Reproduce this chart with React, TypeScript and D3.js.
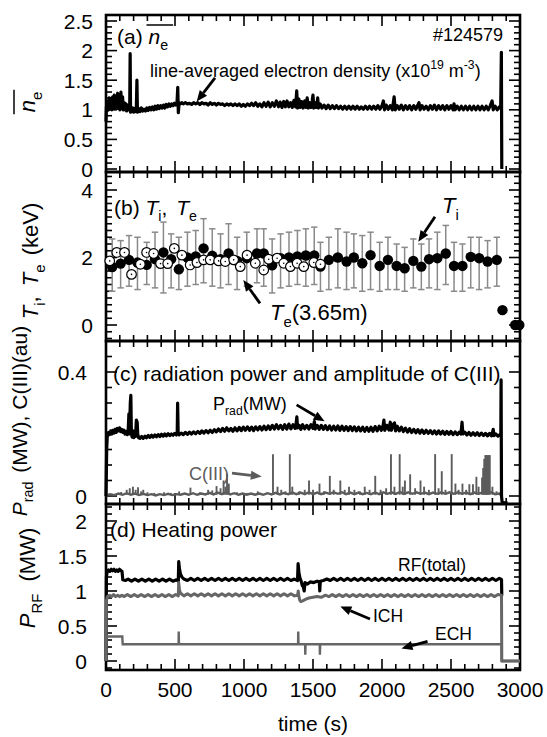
import { useEffect, useRef } from "react";
import * as d3 from "d3";

const W = 547;
const H = 737;
const FONT = "'Liberation Sans', Arial, Helvetica, sans-serif";

// ---- axis ticks ----
const timeTicks = [0, 500, 1000, 1500, 2000, 2500, 3000];
const neTicks = [0, 0.5, 1, 1.5, 2, 2.5];
const tempTicks = [0, 2, 4];
const pradTicks = [0, 0.4];
const prfTicks = [0, 0.5, 1, 1.5, 2];

// ---- (a) line-averaged density, [time (s), 1e19 m^-3] ----
const neSeries: [number, number][] = [
  [0, 0.8], [3, 1.05], [8, 0.98], [13, 1.15], [18, 1.0], [24, 1.2], [30, 1.02], [36, 1.18], [42, 1.0], [48, 1.22],
  [54, 1.04], [60, 1.25], [66, 1.02], [72, 1.2], [78, 1.05], [84, 1.28], [90, 1.02], [96, 1.25], [102, 1.0], [108, 1.3],
  [114, 1.02], [120, 1.22], [126, 1.0], [132, 1.12], [138, 1.0], [144, 1.1], [150, 0.98], [156, 1.08], [162, 1.0], [168, 1.05],
  [172, 1.1], [175, 1.95], [178, 0.96], [184, 1.04], [190, 0.97], [196, 1.03], [202, 0.96], [208, 1.02], [214, 0.97], [220, 1.05],
  [224, 1.5], [228, 0.96], [236, 1.02], [246, 0.97], [256, 1.03], [266, 0.98], [276, 1.01], [286, 0.98], [296, 1.03], [306, 0.99],
  [316, 1.04], [326, 1.0], [336, 1.05], [346, 1.0], [356, 1.06], [366, 1.01], [376, 1.07], [386, 1.02], [396, 1.07], [406, 1.03],
  [416, 1.08], [426, 1.03], [436, 1.09], [446, 1.05], [456, 1.1], [466, 1.06], [476, 1.1], [486, 1.07], [496, 1.11], [506, 1.08],
  [514, 1.1], [520, 1.38], [524, 0.95], [530, 1.12], [540, 1.1], [550, 1.12], [560, 1.1], [575, 1.12], [590, 1.1], [605, 1.11],
  [620, 1.09], [635, 1.12], [650, 1.1], [665, 1.12], [680, 1.09], [695, 1.12], [710, 1.1], [725, 1.11], [740, 1.08], [755, 1.12],
  [770, 1.09], [785, 1.11], [800, 1.08], [815, 1.11], [830, 1.09], [845, 1.1], [860, 1.07], [875, 1.1], [890, 1.08], [905, 1.1],
  [920, 1.07], [935, 1.1], [950, 1.07], [965, 1.1], [980, 1.06], [995, 1.09], [1010, 1.06], [1025, 1.1], [1040, 1.07], [1055, 1.11],
  [1070, 1.07], [1085, 1.12], [1100, 1.06], [1115, 1.1], [1130, 1.05], [1145, 1.12], [1160, 1.06], [1175, 1.13], [1190, 1.05], [1205, 1.12],
  [1220, 1.06], [1235, 1.15], [1250, 1.05], [1262, 1.13], [1275, 1.04], [1288, 1.14], [1300, 1.05], [1312, 1.15], [1325, 1.05], [1338, 1.12],
  [1350, 1.04], [1362, 1.16], [1374, 1.05], [1382, 1.32], [1388, 1.03], [1398, 1.18], [1408, 1.04], [1418, 1.14], [1428, 1.03], [1440, 1.15],
  [1450, 1.04], [1458, 1.2], [1466, 1.03], [1476, 1.12], [1486, 1.04], [1494, 1.15], [1500, 1.25], [1506, 1.03], [1516, 1.12], [1526, 1.04],
  [1534, 1.2], [1540, 1.03], [1552, 1.1], [1565, 1.03], [1580, 1.08], [1595, 1.02], [1610, 1.08], [1625, 1.02], [1640, 1.07], [1655, 1.02],
  [1670, 1.07], [1685, 1.02], [1700, 1.06], [1715, 1.01], [1730, 1.06], [1745, 1.01], [1760, 1.06], [1775, 1.01], [1790, 1.06], [1805, 1.01],
  [1820, 1.06], [1835, 1.01], [1850, 1.05], [1865, 1.01], [1880, 1.06], [1895, 1.01], [1910, 1.06], [1925, 1.01], [1940, 1.06], [1955, 1.01],
  [1970, 1.07], [1985, 1.01], [2000, 1.07], [2010, 1.15], [2018, 1.0], [2030, 1.08], [2045, 1.01], [2060, 1.07], [2075, 1.0], [2088, 1.22],
  [2096, 1.0], [2110, 1.07], [2125, 1.01], [2140, 1.08], [2155, 1.0], [2170, 1.07], [2185, 1.01], [2200, 1.07], [2215, 1.0], [2230, 1.07],
  [2245, 1.01], [2260, 1.08], [2268, 1.12], [2276, 1.0], [2290, 1.07], [2305, 1.01], [2320, 1.06], [2335, 1.0], [2350, 1.07], [2365, 1.01],
  [2380, 1.08], [2395, 1.0], [2410, 1.07], [2425, 1.01], [2440, 1.07], [2455, 1.0], [2470, 1.07], [2485, 1.01], [2500, 1.07], [2515, 1.0],
  [2522, 1.1], [2530, 1.0], [2545, 1.06], [2560, 1.0], [2575, 1.06], [2590, 1.0], [2605, 1.06], [2620, 1.0], [2635, 1.06], [2650, 1.0],
  [2665, 1.06], [2680, 1.0], [2695, 1.06], [2710, 1.0], [2725, 1.06], [2740, 1.0], [2755, 1.06], [2770, 1.0], [2785, 1.07], [2798, 1.15],
  [2806, 1.0], [2820, 1.06], [2835, 1.0], [2850, 1.05], [2860, 1.02], [2865, 1.97], [2868, 0],
];

// ---- (b) ion temperature with error bars, electron temperature (keV) ----
const tiTime = [45, 106, 167, 228, 295, 355, 416, 472, 528, 590, 650, 707, 770, 830, 888, 950, 1020, 1094, 1143, 1204,
  1265, 1326, 1387, 1448, 1509, 1554, 1615, 1680, 1743, 1796, 1857, 1917, 1983, 2043, 2106, 2164, 2227, 2285, 2341, 2401,
  2462, 2522, 2583, 2643, 2704, 2765, 2832];
const tiValue = [1.72, 1.82, 1.93, 1.85, 1.78, 1.95, 2.15, 1.95, 1.65, 2.0, 2.03, 2.27, 2.05, 1.95, 2.12, 1.9, 1.98, 2.12, 2.12, 1.77,
  1.98, 2.0, 2.03, 2.06, 2.06, 1.73, 1.93, 2.0, 1.88, 2.0, 1.83, 2.07, 1.75, 1.93, 1.75, 1.68, 1.9, 1.73, 1.95, 1.98,
  2.12, 1.75, 1.75, 2.02, 1.98, 1.88, 1.93];
const tiErrHigh = [2.55, 2.5, 2.65, 2.6, 2.45, 2.75, 3.05, 2.7, 2.6, 2.75, 2.8, 3.15, 2.85, 2.7, 3.0, 2.6, 2.75, 2.85, 2.85, 2.55,
  2.7, 2.75, 2.8, 2.85, 2.9, 2.45, 2.6, 2.85, 2.75, 2.7, 2.65, 2.75, 2.45, 2.6, 2.4, 2.3, 2.55, 2.4, 2.55, 2.75,
  2.95, 2.45, 2.4, 2.6, 2.6, 2.5, 2.6];
const tiErrLow = [1.0, 1.1, 1.15, 1.05, 1.2, 1.1, 0.95, 1.1, 1.05, 1.15, 1.2, 1.25, 1.15, 1.1, 1.2, 1.05, 1.15, 1.25, 1.15, 0.95,
  1.1, 1.15, 1.2, 1.15, 1.2, 1.0, 1.05, 1.1, 1.05, 1.1, 1.0, 1.05, 1.0, 1.05, 1.05, 1.0, 1.1, 1.05, 1.1, 1.05,
  1.2, 1.0, 1.0, 1.1, 1.05, 1.1, 1.15];
const tiTailTime = [2873, 2965, 2995];
const tiTailValue = [0.44, 0.0, 0.0];
const teTime = [27, 78, 134, 185, 249, 294, 345, 395, 447, 495, 550, 610, 659, 707, 755, 816, 864, 925, 973, 1022,
  1082, 1143, 1179, 1240, 1288, 1336, 1385, 1433, 1506, 1554];
const teValue = [1.9, 2.15, 2.15, 1.5, 1.8, 2.15, 2.12, 1.82, 1.82, 2.27, 2.07, 1.78, 1.85, 1.93, 1.93, 1.9, 1.88, 1.93, 1.73, 2.07,
  1.83, 1.63, 1.95, 1.98, 1.83, 1.73, 1.83, 1.73, 1.85, 1.8];

// ---- (c) radiation power (MW) ----
const pradSeries: [number, number][] = [
  [0, 0], [5, 0.15], [10, 0.2], [18, 0.205], [26, 0.198], [34, 0.21], [42, 0.2], [50, 0.212], [58, 0.203], [66, 0.215],
  [74, 0.205], [82, 0.218], [90, 0.21], [98, 0.22], [106, 0.208], [114, 0.215], [122, 0.205], [130, 0.212], [138, 0.2], [146, 0.208],
  [154, 0.198], [160, 0.205], [166, 0.265], [170, 0.2], [176, 0.3], [180, 0.325], [184, 0.2], [190, 0.19], [196, 0.21], [202, 0.188],
  [208, 0.2], [214, 0.192], [220, 0.245], [226, 0.238], [230, 0.2], [236, 0.188], [246, 0.186], [258, 0.192], [270, 0.186], [282, 0.193],
  [294, 0.188], [306, 0.195], [318, 0.189], [330, 0.196], [342, 0.19], [354, 0.197], [366, 0.191], [378, 0.198], [390, 0.192], [402, 0.199],
  [414, 0.193], [426, 0.2], [438, 0.194], [450, 0.201], [462, 0.195], [474, 0.2], [486, 0.196], [498, 0.202], [510, 0.197], [516, 0.2],
  [519, 0.3], [523, 0.205], [530, 0.197], [545, 0.203], [560, 0.198], [575, 0.205], [590, 0.199], [605, 0.206], [620, 0.2], [635, 0.207],
  [650, 0.201], [665, 0.208], [680, 0.202], [695, 0.21], [710, 0.203], [725, 0.211], [740, 0.204], [755, 0.212], [770, 0.205], [785, 0.214],
  [800, 0.207], [815, 0.216], [830, 0.208], [845, 0.218], [860, 0.209], [875, 0.22], [890, 0.21], [905, 0.218], [920, 0.209], [935, 0.22],
  [950, 0.21], [965, 0.221], [980, 0.211], [995, 0.222], [1010, 0.212], [1025, 0.223], [1040, 0.212], [1055, 0.222], [1070, 0.211], [1085, 0.223],
  [1100, 0.213], [1115, 0.224], [1130, 0.213], [1145, 0.225], [1160, 0.214], [1175, 0.226], [1190, 0.215], [1205, 0.228], [1220, 0.216], [1235, 0.23],
  [1250, 0.217], [1265, 0.228], [1280, 0.215], [1295, 0.23], [1310, 0.216], [1325, 0.232], [1340, 0.217], [1355, 0.23], [1370, 0.218], [1378, 0.235],
  [1383, 0.255], [1388, 0.22], [1400, 0.228], [1412, 0.215], [1425, 0.23], [1440, 0.217], [1455, 0.228], [1470, 0.216], [1485, 0.23], [1500, 0.218],
  [1510, 0.24], [1516, 0.216], [1530, 0.228], [1545, 0.215], [1560, 0.228], [1575, 0.215], [1590, 0.227], [1605, 0.214], [1620, 0.226], [1635, 0.213],
  [1650, 0.225], [1665, 0.213], [1680, 0.226], [1695, 0.212], [1710, 0.225], [1725, 0.212], [1740, 0.224], [1755, 0.211], [1770, 0.224], [1785, 0.211],
  [1800, 0.223], [1815, 0.21], [1830, 0.222], [1845, 0.21], [1860, 0.222], [1875, 0.209], [1890, 0.221], [1905, 0.209], [1920, 0.222], [1935, 0.209],
  [1950, 0.224], [1965, 0.21], [1980, 0.225], [1995, 0.212], [2008, 0.228], [2014, 0.245], [2020, 0.212], [2035, 0.228], [2050, 0.213], [2060, 0.238],
  [2068, 0.212], [2080, 0.23], [2090, 0.236], [2098, 0.21], [2110, 0.225], [2125, 0.21], [2140, 0.222], [2155, 0.208], [2170, 0.219], [2185, 0.206],
  [2200, 0.217], [2215, 0.205], [2230, 0.215], [2245, 0.204], [2260, 0.214], [2275, 0.203], [2290, 0.213], [2305, 0.202], [2320, 0.212], [2335, 0.202],
  [2350, 0.211], [2365, 0.201], [2380, 0.21], [2395, 0.2], [2410, 0.21], [2425, 0.2], [2440, 0.209], [2455, 0.199], [2470, 0.208], [2485, 0.199],
  [2500, 0.208], [2515, 0.198], [2530, 0.207], [2545, 0.198], [2560, 0.206], [2572, 0.2], [2580, 0.238], [2586, 0.2], [2600, 0.206], [2615, 0.197],
  [2630, 0.205], [2645, 0.196], [2660, 0.204], [2675, 0.196], [2690, 0.204], [2705, 0.195], [2720, 0.203], [2735, 0.195], [2750, 0.202], [2765, 0.194],
  [2780, 0.202], [2795, 0.194], [2806, 0.215], [2812, 0.195], [2825, 0.2], [2840, 0.193], [2855, 0.198], [2861, 0.195], [2863, 0.375], [2866, 0.0],
  [2870, -0.018], [2885, -0.022], [2910, -0.022],
];

// ---- (c) C(III) amplitude (au): baseline and spikes ----
const c3Base: [number, number][] = [
  [0, 0.002], [30, 0.006], [60, 0.003], [90, 0.008], [120, 0.004], [150, 0.009], [180, 0.004], [210, 0.008], [240, 0.003], [270, 0.007],
  [300, 0.003], [330, 0.006], [360, 0.002], [390, 0.006], [420, 0.003], [450, 0.007], [480, 0.003], [510, 0.006], [540, 0.004], [570, 0.008],
  [600, 0.004], [630, 0.009], [660, 0.004], [690, 0.008], [720, 0.005], [750, 0.01], [780, 0.005], [810, 0.011], [840, 0.006], [870, 0.012],
  [900, 0.005], [930, 0.009], [960, 0.004], [990, 0.008], [1020, 0.004], [1050, 0.008], [1080, 0.004], [1110, 0.008], [1140, 0.004], [1170, 0.009],
  [1200, 0.005], [1230, 0.01], [1260, 0.005], [1290, 0.01], [1320, 0.006], [1350, 0.011], [1380, 0.006], [1410, 0.011], [1440, 0.006], [1470, 0.012],
  [1500, 0.006], [1530, 0.011], [1560, 0.006], [1590, 0.011], [1620, 0.007], [1650, 0.012], [1680, 0.007], [1710, 0.012], [1740, 0.006], [1770, 0.011],
  [1800, 0.006], [1830, 0.011], [1860, 0.006], [1890, 0.01], [1920, 0.006], [1950, 0.011], [1980, 0.006], [2010, 0.012], [2040, 0.007], [2070, 0.012],
  [2100, 0.007], [2130, 0.013], [2160, 0.007], [2190, 0.012], [2220, 0.007], [2250, 0.012], [2280, 0.007], [2310, 0.011], [2340, 0.006], [2370, 0.011],
  [2400, 0.007], [2430, 0.012], [2460, 0.007], [2490, 0.012], [2520, 0.007], [2550, 0.012], [2580, 0.007], [2610, 0.011], [2640, 0.006], [2670, 0.011],
  [2700, 0.007], [2730, 0.012], [2760, 0.008], [2790, 0.012], [2820, 0.006], [2850, 0.008], [2862, 0.003],
];
const c3SpikeTime = [110, 150, 172, 195, 215, 232, 255, 270, 300, 350, 420, 470, 530, 612, 680, 740, 770, 801, 830, 852,
  865, 877, 890, 950, 1020, 1100, 1160, 1210, 1243, 1270, 1300, 1332, 1350, 1400, 1440, 1471, 1500, 1547, 1580, 1622,
  1650, 1698, 1730, 1761, 1800, 1840, 1875, 1910, 1951, 1990, 2030, 2065, 2090, 2128, 2150, 2166, 2204, 2240, 2279, 2305,
  2340, 2385, 2410, 2433, 2460, 2505, 2532, 2555, 2583, 2610, 2633, 2659, 2684, 2700, 2725, 2733, 2741, 2749, 2757, 2765,
  2773, 2781, 2800, 2830, 2848];
const c3SpikeHeight = [0.013, 0.02, 0.025, 0.03, 0.02, 0.028, 0.015, 0.02, 0.012, 0.01, 0.012, 0.01, 0.015, 0.027, 0.012, 0.02, 0.018, 0.032, 0.025, 0.05,
  0.03, 0.072, 0.04, 0.012, 0.01, 0.015, 0.01, 0.135, 0.03, 0.02, 0.015, 0.135, 0.03, 0.015, 0.02, 0.05, 0.02, 0.04, 0.015, 0.065,
  0.02, 0.05, 0.02, 0.03, 0.02, 0.015, 0.03, 0.02, 0.065, 0.02, 0.025, 0.135, 0.03, 0.135, 0.03, 0.05, 0.07, 0.025, 0.05, 0.03,
  0.02, 0.135, 0.025, 0.08, 0.02, 0.135, 0.04, 0.02, 0.04, 0.02, 0.038, 0.038, 0.062, 0.03, 0.06, 0.09, 0.12, 0.132, 0.132, 0.132,
  0.132, 0.132, 0.03, 0.015, 0.01];

// ---- (d) heating power (MW) ----
const rfSeries: [number, number][] = [
  [0, 0], [3, 1.2], [8, 1.27], [18, 1.3], [28, 1.28], [38, 1.31], [48, 1.29], [58, 1.31], [68, 1.28], [78, 1.3],
  [88, 1.28], [98, 1.31], [108, 1.29], [116, 1.28], [122, 1.16], [140, 1.15], [160, 1.17], [185, 1.14], [210, 1.17], [235, 1.14],
  [260, 1.17], [285, 1.14], [310, 1.17], [335, 1.14], [360, 1.17], [385, 1.14], [410, 1.17], [435, 1.14], [460, 1.17], [485, 1.14],
  [510, 1.16], [524, 1.14], [527, 1.42], [532, 1.32], [540, 1.24], [550, 1.2], [565, 1.17], [590, 1.15], [615, 1.18], [640, 1.15],
  [665, 1.18], [690, 1.15], [715, 1.18], [740, 1.15], [765, 1.18], [790, 1.15], [815, 1.18], [840, 1.15], [865, 1.18], [890, 1.15],
  [915, 1.18], [940, 1.15], [965, 1.18], [990, 1.15], [1015, 1.18], [1040, 1.15], [1065, 1.18], [1090, 1.15], [1115, 1.18], [1140, 1.15],
  [1165, 1.18], [1190, 1.15], [1215, 1.18], [1240, 1.15], [1265, 1.18], [1290, 1.15], [1315, 1.18], [1340, 1.15], [1365, 1.17], [1388, 1.15],
  [1392, 1.39], [1398, 1.26], [1406, 1.18], [1414, 1.14], [1422, 1.08], [1430, 1.06], [1436, 1.0], [1442, 1.12], [1460, 1.1], [1480, 1.13],
  [1505, 1.12], [1530, 1.14], [1546, 1.13], [1549, 1.0], [1553, 1.14], [1575, 1.15], [1600, 1.17], [1625, 1.15], [1650, 1.18], [1675, 1.15],
  [1700, 1.18], [1725, 1.15], [1750, 1.18], [1775, 1.15], [1800, 1.18], [1825, 1.15], [1850, 1.18], [1875, 1.15], [1900, 1.18], [1925, 1.15],
  [1950, 1.18], [1975, 1.15], [2000, 1.18], [2025, 1.15], [2050, 1.18], [2075, 1.15], [2100, 1.18], [2125, 1.15], [2150, 1.18], [2175, 1.15],
  [2200, 1.18], [2225, 1.15], [2250, 1.18], [2275, 1.15], [2300, 1.18], [2325, 1.15], [2350, 1.18], [2375, 1.15], [2400, 1.18], [2425, 1.15],
  [2450, 1.18], [2475, 1.15], [2500, 1.18], [2525, 1.15], [2550, 1.18], [2575, 1.15], [2600, 1.18], [2625, 1.15], [2650, 1.18], [2675, 1.15],
  [2700, 1.18], [2725, 1.15], [2750, 1.18], [2775, 1.15], [2800, 1.18], [2825, 1.15], [2850, 1.18], [2862, 1.17], [2866, 1.16], [2868, 0.93],
];
const ichSeries: [number, number][] = [
  [0, 0], [3, 0.86], [10, 0.92], [25, 0.94], [40, 0.92], [55, 0.95], [70, 0.92], [85, 0.94], [100, 0.92], [115, 0.94],
  [130, 0.92], [155, 0.95], [180, 0.92], [205, 0.95], [230, 0.92], [255, 0.95], [280, 0.92], [305, 0.95], [330, 0.92], [355, 0.95],
  [380, 0.92], [405, 0.95], [430, 0.92], [455, 0.95], [480, 0.92], [505, 0.95], [524, 0.93], [527, 1.12], [532, 1.02], [540, 0.97],
  [552, 0.95], [565, 0.93], [590, 0.96], [615, 0.93], [640, 0.96], [665, 0.93], [690, 0.96], [715, 0.93], [740, 0.96], [765, 0.93],
  [790, 0.96], [815, 0.93], [840, 0.96], [865, 0.93], [890, 0.96], [915, 0.93], [940, 0.96], [965, 0.93], [990, 0.96], [1015, 0.93],
  [1040, 0.96], [1065, 0.93], [1090, 0.96], [1115, 0.93], [1140, 0.96], [1165, 0.93], [1190, 0.96], [1215, 0.93], [1240, 0.96], [1265, 0.93],
  [1290, 0.96], [1315, 0.93], [1340, 0.96], [1365, 0.93], [1388, 0.94], [1393, 1.0], [1398, 0.92], [1404, 0.87], [1412, 0.85], [1425, 0.86],
  [1445, 0.88], [1470, 0.9], [1500, 0.91], [1530, 0.92], [1560, 0.91], [1590, 0.94], [1615, 0.92], [1640, 0.95], [1665, 0.92], [1690, 0.95],
  [1715, 0.92], [1740, 0.95], [1765, 0.92], [1790, 0.95], [1815, 0.92], [1840, 0.95], [1865, 0.92], [1890, 0.95], [1915, 0.92], [1940, 0.95],
  [1965, 0.92], [1990, 0.95], [2015, 0.92], [2040, 0.95], [2065, 0.92], [2090, 0.95], [2115, 0.92], [2140, 0.95], [2165, 0.92], [2190, 0.95],
  [2215, 0.92], [2240, 0.95], [2265, 0.92], [2290, 0.95], [2315, 0.92], [2340, 0.95], [2365, 0.92], [2390, 0.95], [2415, 0.92], [2440, 0.95],
  [2465, 0.92], [2490, 0.95], [2515, 0.92], [2540, 0.95], [2565, 0.92], [2590, 0.95], [2615, 0.92], [2640, 0.95], [2665, 0.92], [2690, 0.95],
  [2715, 0.92], [2740, 0.95], [2765, 0.92], [2790, 0.95], [2815, 0.92], [2840, 0.95], [2866, 0.94], [2868, 0], [3000, 0],
];
const echSeries: [number, number][] = [
  [0, 0], [1, 0.35], [118, 0.35], [121, 0.24], [526, 0.24], [527, 0.42], [529, 0.24], [1392, 0.24], [1393, 0.42], [1395, 0.24],
  [1443, 0.24], [1444, 0.09], [1446, 0.24], [1549, 0.24], [1550, 0.09], [1552, 0.24], [2866, 0.24], [2868, 0], [3000, 0],
];

type Part = { t: string; italic?: boolean; sub?: boolean; sup?: boolean; dx?: number };

function richText(parent: any, x: number, y: number, parts: Part[], size: number, fill = "#000", anchor = "start") {
  const text = parent
    .append("text")
    .attr("x", x)
    .attr("y", y)
    .attr("font-family", FONT)
    .attr("font-size", size)
    .attr("fill", fill)
    .attr("text-anchor", anchor);
  let shift = 0;
  parts.forEach((p) => {
    const ts = text.append("tspan").text(p.t);
    const target = p.sub ? size * 0.3 : p.sup ? -size * 0.42 : 0;
    if (target !== shift) ts.attr("dy", target - shift);
    shift = target;
    if (p.italic) ts.attr("font-style", "italic");
    if (p.sub || p.sup) ts.attr("font-size", size * 0.68);
    if (p.dx) ts.attr("dx", p.dx);
  });
  return text;
}

function arrow(g: any, x1: number, y1: number, x2: number, y2: number, color: string) {
  const ang = Math.atan2(y2 - y1, x2 - x1);
  const hl = 11;
  const hw = 4.6;
  const bx = x2 - hl * Math.cos(ang);
  const by = y2 - hl * Math.sin(ang);
  g.append("line")
    .attr("x1", x1).attr("y1", y1).attr("x2", bx).attr("y2", by)
    .attr("stroke", color).attr("stroke-width", 2.8);
  g.append("path")
    .attr("d", `M${x2},${y2}L${bx + hw * Math.sin(ang)},${by - hw * Math.cos(ang)}L${bx - hw * Math.sin(ang)},${by + hw * Math.cos(ang)}Z`)
    .attr("fill", color);
}

export default function App() {
  const ref = useRef<SVGSVGElement>(null);

  useEffect(() => {
    const svg = d3.select(ref.current);
    svg.selectAll("*").remove();

    const x = d3.scaleLinear().domain([0, 3000]).range([106, 520]);
    const [left, right] = x.range();

    // panel frames and y scales
    const panels = [
      { top: 15, bottom: 172, y: d3.scaleLinear().domain([0, 2.5]).range([169, 21]), minor: 0.1, major: 0.5, ticks: neTicks, labelX: 93 },
      { top: 172, bottom: 341, y: d3.scaleLinear().domain([0, 4]).range([325, 190]), minor: 0.2, major: 2, ticks: tempTicks, labelX: 93 },
      { top: 341, bottom: 504, y: d3.scaleLinear().domain([0, 0.4]).range([496, 372]), minor: 0.05, major: 0.4, ticks: pradTicks, labelX: 87 },
      { top: 504, bottom: 670, y: d3.scaleLinear().domain([0, 2]).range([661, 521]), minor: 0.1, major: 0.5, ticks: prfTicks, labelX: 87 },
    ];
    const [pa, pb, pc, pd] = panels;

    const axes = svg.append("g");
    panels.forEach((p) => {
      // y ticks (left and right, inward)
      const lo = Math.ceil(p.y.invert(p.bottom) / p.minor - 1e-6);
      const hi = Math.floor(p.y.invert(p.top) / p.minor + 1e-6);
      d3.range(lo, hi + 1).forEach((k) => {
        const v = k * p.minor;
        const r = v / p.major;
        const isMajor = Math.abs(r - Math.round(r)) < 1e-6;
        const len = isMajor ? 11 : 6;
        const yy = p.y(v);
        axes.append("line").attr("x1", left).attr("x2", left + len).attr("y1", yy).attr("y2", yy)
          .attr("stroke", "#000").attr("stroke-width", 1.6);
        axes.append("line").attr("x1", right).attr("x2", right - len).attr("y1", yy).attr("y2", yy)
          .attr("stroke", "#000").attr("stroke-width", 1.6);
      });
      // x ticks (top and bottom, inward)
      d3.range(0, 3001, 100).forEach((t) => {
        const len = t % 500 === 0 ? 11 : 6;
        const xx = x(t);
        axes.append("line").attr("x1", xx).attr("x2", xx).attr("y1", p.top).attr("y2", p.top + len)
          .attr("stroke", "#000").attr("stroke-width", 1.6);
        axes.append("line").attr("x1", xx).attr("x2", xx).attr("y1", p.bottom).attr("y2", p.bottom - len)
          .attr("stroke", "#000").attr("stroke-width", 1.6);
      });
      axes.append("rect")
        .attr("x", left).attr("y", p.top).attr("width", right - left).attr("height", p.bottom - p.top)
        .attr("fill", "none").attr("stroke", "#000").attr("stroke-width", 2.6);
      // y tick labels
      p.ticks.forEach((v) => {
        axes.append("text")
          .attr("x", p.labelX).attr("y", p.y(v))
          .attr("dy", "0.36em")
          .attr("text-anchor", "end")
          .attr("font-family", FONT).attr("font-size", 21)
          .text(String(v));
      });
    });

    // x tick labels and title
    timeTicks.forEach((t) => {
      axes.append("text")
        .attr("x", x(t)).attr("y", 697)
        .attr("text-anchor", "middle")
        .attr("font-family", FONT).attr("font-size", 21)
        .text(String(t));
    });
    axes.append("text")
      .attr("x", (left + right) / 2).attr("y", 731)
      .attr("text-anchor", "middle")
      .attr("font-family", FONT).attr("font-size", 21)
      .text("time (s)");

    const data = svg.append("g");
    const lineFor = (p: any) =>
      d3.line<[number, number]>().x((d) => x(d[0])).y((d) => p.y(d[1]));

    // (a) density
    data.append("path").attr("d", lineFor(pa)(neSeries))
      .attr("fill", "none").attr("stroke", "#000").attr("stroke-width", 3.2).attr("stroke-linejoin", "round");

    // (b) temperatures
    tiTime.forEach((t, i) => {
      const xx = x(t);
      data.append("line").attr("x1", xx).attr("x2", xx)
        .attr("y1", pb.y(tiErrLow[i])).attr("y2", pb.y(tiErrHigh[i]))
        .attr("stroke", "#8a8a8a").attr("stroke-width", 1.5);
      [tiErrLow[i], tiErrHigh[i]].forEach((v) => {
        data.append("line").attr("x1", xx - 3.2).attr("x2", xx + 3.2)
          .attr("y1", pb.y(v)).attr("y2", pb.y(v))
          .attr("stroke", "#8a8a8a").attr("stroke-width", 1.5);
      });
    });
    tiTime.forEach((t, i) => {
      data.append("circle").attr("cx", x(t)).attr("cy", pb.y(tiValue[i])).attr("r", 5.2).attr("fill", "#000");
    });
    teTime.forEach((t, i) => {
      data.append("circle").attr("cx", x(t)).attr("cy", pb.y(teValue[i])).attr("r", 4.8)
        .attr("fill", "#fff").attr("stroke", "#000").attr("stroke-width", 1.2);
      data.append("circle").attr("cx", x(t)).attr("cy", pb.y(teValue[i])).attr("r", 0.8).attr("fill", "#000");
    });
    tiTailTime.forEach((t, i) => {
      data.append("circle").attr("cx", x(t)).attr("cy", pb.y(tiTailValue[i])).attr("r", 5.2).attr("fill", "#000");
    });

    // (c) C(III) then Prad
    data.append("path").attr("d", lineFor(pc)(c3Base))
      .attr("fill", "none").attr("stroke", "#5c5c5c").attr("stroke-width", 2.4);
    c3SpikeTime.forEach((t, i) => {
      data.append("line").attr("x1", x(t)).attr("x2", x(t))
        .attr("y1", pc.y(0.004)).attr("y2", pc.y(c3SpikeHeight[i]))
        .attr("stroke", "#5c5c5c").attr("stroke-width", 1.9);
    });
    data.append("path").attr("d", lineFor(pc)(pradSeries))
      .attr("fill", "none").attr("stroke", "#000").attr("stroke-width", 3.2).attr("stroke-linejoin", "round");

    // (d) heating power
    data.append("path").attr("d", lineFor(pd)(rfSeries))
      .attr("fill", "none").attr("stroke", "#000").attr("stroke-width", 3.2).attr("stroke-linejoin", "round");
    data.append("path").attr("d", lineFor(pd)(ichSeries))
      .attr("fill", "none").attr("stroke", "#666").attr("stroke-width", 3.0).attr("stroke-linejoin", "round");
    data.append("path").attr("d", lineFor(pd)(echSeries))
      .attr("fill", "none").attr("stroke", "#666").attr("stroke-width", 2.4);

    // ---- annotations ----
    const ann = svg.append("g");

    // (a)
    const aText = richText(ann, 117, 44, [{ t: "(a) " }, { t: "n", italic: true }, { t: "e", sub: true }], 21);
    const nBox = (aText.node() as any).getExtentOfChar(4);
    const eBox = (aText.node() as any).getExtentOfChar(5);
    ann.append("line").attr("x1", nBox.x - 2).attr("x2", eBox.x + eBox.width + 5)
      .attr("y1", 25).attr("y2", 25).attr("stroke", "#000").attr("stroke-width", 1.5);
    richText(ann, 503, 41, [{ t: "#124579" }], 18, "#000", "end");
    richText(ann, 150, 77, [
      { t: "line-averaged electron density (x10" }, { t: "19", sup: true }, { t: " m" }, { t: "-3", sup: true }, { t: ")" },
    ], 18);
    arrow(ann, x(790), pa.y(1.54), x(657), pa.y(1.14), "#000");

    // (b)
    richText(ann, 114, 215, [
      { t: "(b) " }, { t: "T", italic: true }, { t: "i", sub: true }, { t: ", " }, { t: "T", italic: true, dx: 3 }, { t: "e", sub: true },
    ], 21);
    richText(ann, 442, 213, [{ t: "T", italic: true }, { t: "i", sub: true }], 22);
    arrow(ann, x(2384), pb.y(3.21), x(2263), pb.y(2.47), "#000");
    richText(ann, 270, 320, [{ t: "T", italic: true }, { t: "e", sub: true }, { t: "(3.65m)" }], 22);
    arrow(ann, x(1116), pb.y(0.64), x(995), pb.y(1.33), "#000");

    // (c)
    richText(ann, 113, 381, [{ t: "(c) radiation power and amplitude of C(III)" }], 21);
    richText(ann, 213, 410, [{ t: "P" }, { t: "rad", sub: true }, { t: "(MW)" }], 18);
    arrow(ann, x(1381), pc.y(0.294), x(1584), pc.y(0.241), "#000");
    richText(ann, 189, 480, [{ t: "C(III)" }], 18, "#5c5c5c");
    arrow(ann, x(913), pc.y(0.074), x(1129), pc.y(0.0626), "#5c5c5c");

    // (d)
    richText(ann, 110, 537, [{ t: "(d) Heating power" }], 21);
    richText(ann, 398, 571, [{ t: "RF(total)" }], 17.5);
    richText(ann, 373, 622, [{ t: "ICH" }], 17.5);
    arrow(ann, x(1913), pd.y(0.6), x(1698), pd.y(0.78), "#000");
    richText(ann, 435, 640, [{ t: "ECH" }], 17.5);
    arrow(ann, x(2330), pd.y(0.28), x(2141), pd.y(0.18), "#000");

    // ---- y axis titles (rotated) ----
    const yt = (cx: number, cy: number, parts: Part[], size: number) => {
      const g = ann.append("g").attr("transform", `translate(${cx},${cy}) rotate(-90)`);
      return richText(g, 0, 0, parts, size, "#000", "middle");
    };
    const aTitle = yt(35, 102, [{ t: "n", italic: true }, { t: "e", sub: true }], 22);
    const n2 = (aTitle.node() as any).getExtentOfChar(0);
    const e2 = (aTitle.node() as any).getExtentOfChar(1);
    const g2 = d3.select((aTitle.node() as any).parentNode);
    g2.append("line").attr("x1", n2.x - 2).attr("x2", e2.x + e2.width + 2)
      .attr("y1", -21).attr("y2", -21).attr("stroke", "#000").attr("stroke-width", 1.5);
    yt(38, 261, [
      { t: "T", italic: true }, { t: "i", sub: true }, { t: ", " }, { t: "T", italic: true, dx: 4 }, { t: "e", sub: true }, { t: " (keV)", dx: 3 },
    ], 22);
    yt(27, 421, [
      { t: "P", italic: true }, { t: "rad", sub: true }, { t: " (MW), C(III)(au)", dx: 3 },
    ], 21);
    yt(35, 578, [{ t: "P", italic: true }, { t: "RF", sub: true }, { t: " (MW)", dx: 6 }], 22);
  }, []);

  return (
    <svg
      ref={ref}
      width={W}
      height={H}
      style={{ position: "absolute", left: 0, top: 0, background: "#fff" }}
    />
  );
}
